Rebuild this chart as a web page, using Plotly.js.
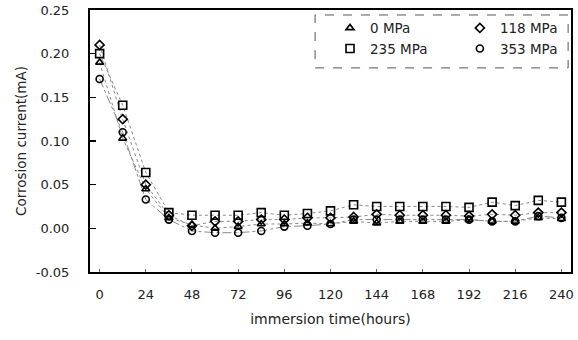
<!DOCTYPE html>
<html>
<head>
<meta charset="utf-8">
<script src="https://cdn.plot.ly/plotly-3.0.1.min.js"></script>
<style>html,body{margin:0;padding:0;background:#fff;}#chart{width:578px;height:340px;}</style>
</head>
<body>
<div id="chart"></div>
<script>
const hours = [0,12,24,36,48,60,72,84,96,108,120,132,144,156,168,180,192,204,216,228,240];
const mpa0   = [0.190,0.103,0.045,0.012,0.004,0.000,0.002,0.005,0.005,0.006,0.005,0.008,0.006,0.008,0.008,0.008,0.010,0.008,0.008,0.012,0.011];
const mpa118 = [0.210,0.125,0.050,0.015,0.003,0.008,0.008,0.010,0.010,0.012,0.012,0.013,0.016,0.015,0.015,0.015,0.014,0.016,0.015,0.018,0.018];
const mpa235 = [0.200,0.141,0.064,0.018,0.015,0.015,0.015,0.018,0.015,0.017,0.020,0.027,0.025,0.025,0.025,0.025,0.024,0.030,0.026,0.032,0.030];
const mpa353 = [0.171,0.110,0.033,0.010,-0.003,-0.005,-0.005,-0.003,0.002,0.003,0.005,0.010,0.010,0.010,0.010,0.010,0.010,0.008,0.008,0.014,0.012];
const seriesNames = ['0 MPa','118 MPa','235 MPa','353 MPa'];
const tickVals = [0,24,48,72,96,120,144,168,192,216,240];
const yTicks = [-0.05,0,0.05,0.10,0.15,0.20,0.25];

const series = [
  {y: mpa0,   name: seriesNames[0], symbol: 'triangle-up-open', dash: 'dot',     legend: 'legend',  size: 7},
  {y: mpa118, name: seriesNames[1], symbol: 'diamond-open',     dash: 'dot',     legend: 'legend2', size: 7},
  {y: mpa235, name: seriesNames[2], symbol: 'square-open',      dash: 'dot',     legend: 'legend',  size: 8},
  {y: mpa353, name: seriesNames[3], symbol: 'circle-open',      dash: 'dashdot', legend: 'legend2', size: 7}
];

const traces = [];
series.forEach(s => {
  traces.push({x: hours, y: s.y, mode: 'lines', showlegend: false, hoverinfo: 'skip',
    line: {color: '#888', width: 1, dash: s.dash}});
});
series.forEach(s => {
  traces.push({x: hours, y: s.y, mode: 'markers', name: s.name, legend: s.legend,
    marker: {symbol: s.symbol, size: s.size, color: '#000', line: {width: 1.6, color: '#000'}}});
});

const fam = '"DejaVu Sans", "Liberation Sans", Arial, sans-serif';
const layout = {
  width: 578, height: 340,
  margin: {l: 90, r: 7, t: 10, b: 68},
  paper_bgcolor: '#fff', plot_bgcolor: '#fff',
  font: {family: fam, size: 13, color: '#222'},
  showlegend: true,
  xaxis: {
    range: [-5, 245], tickvals: tickVals, ticktext: tickVals.map(String),
    showgrid: false, zeroline: false, showline: true, linecolor: '#000', linewidth: 2, mirror: true,
    ticks: 'inside', ticklen: 3, tickcolor: '#666', tickwidth: 1,
    ticklabelstandoff: 9,
    tickfont: {family: fam, size: 13, color: '#222'},
    title: {text: 'immersion time(hours)', font: {family: fam, size: 14, color: '#222'}, standoff: 14}
  },
  yaxis: {
    range: [-0.05, 0.25], tickvals: yTicks, ticktext: yTicks.map(v => v.toFixed(2)),
    showgrid: false, zeroline: false, showline: true, linecolor: '#000', linewidth: 2, mirror: true,
    ticks: 'inside', ticklen: 6, tickcolor: '#000', tickwidth: 1.5,
    ticklabelstandoff: 16,
    tickfont: {family: fam, size: 13, color: '#222'},
    title: {text: 'Corrosion current(mA)', font: {family: fam, size: 13.5, color: '#222'}, standoff: 6}
  },
  legend: {
    x: 0.499, xanchor: 'left', y: 0.99, yanchor: 'top',
    bgcolor: 'rgba(0,0,0,0)', borderwidth: 0, itemwidth: 30,
    font: {family: fam, size: 13.5, color: '#222'}, tracegroupgap: 0
  },
  legend2: {
    x: 0.769, xanchor: 'left', y: 0.99, yanchor: 'top',
    bgcolor: 'rgba(0,0,0,0)', borderwidth: 0, itemwidth: 30,
    font: {family: fam, size: 13.5, color: '#222'}, tracegroupgap: 0
  },
  shapes: [{
    type: 'rect', xref: 'paper', yref: 'paper',
    x0: 0.468, x1: 0.994, y0: 0.779, y1: 0.981,
    line: {color: '#555', width: 1, dash: 'dash'}, fillcolor: 'rgba(0,0,0,0)'
  }]
};

Plotly.newPlot('chart', traces, layout, {displayModeBar: false, staticPlot: true});
</script>
</body>
</html>
